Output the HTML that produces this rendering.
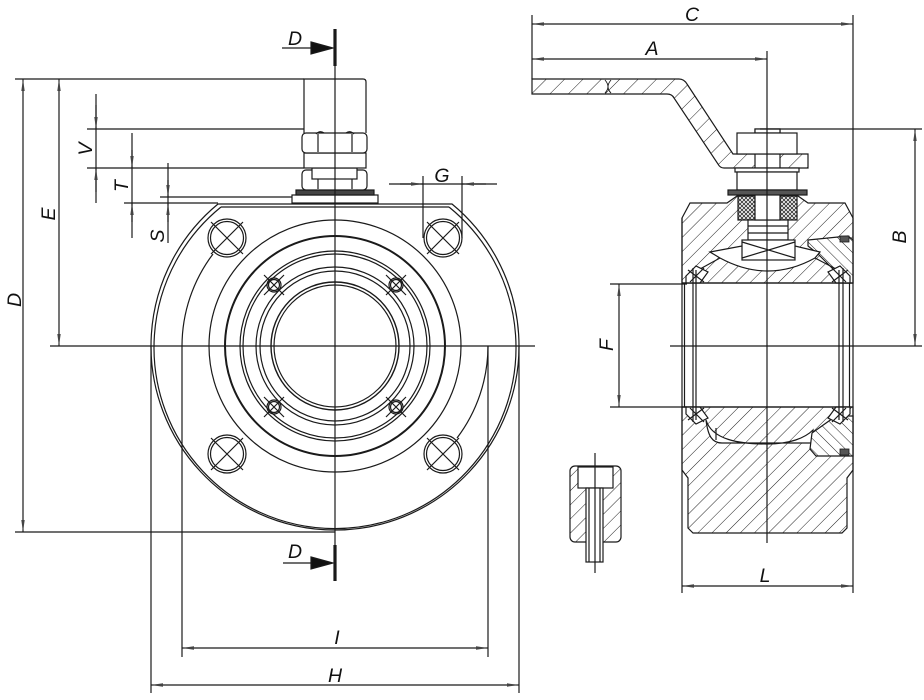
<!DOCTYPE html>
<html>
<head>
<meta charset="utf-8">
<style>
  html,body{margin:0;padding:0;background:#fff;}
  svg{display:block;}
  text{font-family:"Liberation Sans",sans-serif;font-style:italic;font-size:19.5px;fill:#111;stroke:none;}
</style>
</head>
<body>
<svg width="924" height="700" viewBox="0 0 924 700" xmlns="http://www.w3.org/2000/svg">
<defs>
  <pattern id="hb" patternUnits="userSpaceOnUse" width="10" height="10" patternTransform="rotate(45)">
    <rect width="10" height="10" fill="#fff"/>
    <line x1="0" y1="0" x2="0" y2="10" stroke="#222" stroke-width="1"/>
  </pattern>
  <pattern id="hr" patternUnits="userSpaceOnUse" width="8" height="8" patternTransform="rotate(-45)">
    <rect width="8" height="8" fill="#fff"/>
    <line x1="0" y1="0" x2="0" y2="8" stroke="#222" stroke-width="1"/>
  </pattern>
  <pattern id="hh" patternUnits="userSpaceOnUse" width="13" height="13" patternTransform="rotate(45)">
    <rect width="13" height="13" fill="#fff"/>
    <line x1="0" y1="0" x2="0" y2="13" stroke="#222" stroke-width="1"/>
  </pattern>
  <pattern id="pk" patternUnits="userSpaceOnUse" width="4" height="4">
    <rect width="4" height="4" fill="#fff"/>
    <path d="M0,4 L4,0 M0,0 L4,4" stroke="#333" stroke-width="0.9"/>
  </pattern>
  <marker id="a" viewBox="0 0 12 5" refX="12" refY="2.5" markerWidth="12" markerHeight="5" markerUnits="userSpaceOnUse" orient="auto-start-reverse">
    <path d="M0,0.8 L12,2.5 L0,4.2 Z" fill="#444"/>
  </marker>
</defs>

<g stroke="#1a1a1a" stroke-width="1.2" fill="none">

<!-- ================= LEFT VIEW ================= -->
<path d="M218,204 A184 184 0 1 0 452,204 Z" fill="#fff"/>
<path d="M221,207 A181 181 0 1 0 449,207" />
<line x1="221" y1="207" x2="449" y2="207"/>

<circle cx="335" cy="346" r="126"/>
<circle cx="335" cy="346" r="110" stroke-width="2"/>
<circle cx="335" cy="346" r="95"/>
<circle cx="335" cy="346" r="92"/>
<circle cx="335" cy="346" r="79"/>
<circle cx="335" cy="346" r="75"/>
<circle cx="335" cy="346" r="64" stroke-width="1.4"/>
<circle cx="335" cy="346" r="61"/>

<path d="M213,254 A153 153 0 0 0 182,346"/>
<path d="M488,346 A153 153 0 0 1 457,438"/>

<g>
  <circle cx="227" cy="238" r="19"/><circle cx="227" cy="238" r="16.5"/>
  <path d="M211,222 L243,254 M243,222 L211,254"/>
  <circle cx="443" cy="238" r="19"/><circle cx="443" cy="238" r="16.5"/>
  <path d="M427,222 L459,254 M459,222 L427,254"/>
  <circle cx="227" cy="454" r="19"/><circle cx="227" cy="454" r="16.5"/>
  <path d="M211,438 L243,470 M243,438 L211,470"/>
  <circle cx="443" cy="454" r="19"/><circle cx="443" cy="454" r="16.5"/>
  <path d="M427,438 L459,470 M459,438 L427,470"/>
</g>
<g>
  <circle cx="274" cy="285" r="7"/><circle cx="274" cy="285" r="5.5"/>
  <path d="M264,275 L284,295 M284,275 L264,295"/>
  <circle cx="396" cy="285" r="7"/><circle cx="396" cy="285" r="5.5"/>
  <path d="M386,275 L406,295 M406,275 L386,295"/>
  <circle cx="274" cy="407" r="7"/><circle cx="274" cy="407" r="5.5"/>
  <path d="M264,397 L284,417 M284,397 L264,417"/>
  <circle cx="396" cy="407" r="7"/><circle cx="396" cy="407" r="5.5"/>
  <path d="M386,397 L406,417 M406,397 L386,417"/>
</g>

<rect x="292" y="195" width="86" height="8" fill="#fff"/>
<rect x="296" y="190" width="78" height="5" fill="#444"/>
<rect x="302" y="170" width="65" height="20" rx="4" fill="#fff"/>
<line x1="318" y1="171" x2="318" y2="189"/><line x1="352" y1="171" x2="352" y2="189"/>
<rect x="312" y="168" width="45" height="11" fill="#fff"/>
<rect x="304" y="153" width="62" height="15" fill="#fff"/>
<rect x="302" y="133" width="65" height="20" rx="4" fill="#fff"/>
<line x1="318" y1="134" x2="318" y2="152"/><line x1="352" y1="134" x2="352" y2="152"/>
<path d="M316,134 Q320,130 324,133 M346,133 Q350,130 354,134"/>
<path d="M304,133 L304,79 L363,79 Q366,79 366,82 L366,133"/>

<line x1="15" y1="79" x2="304" y2="79"/>
<line x1="15" y1="532" x2="335" y2="532"/>
<line x1="87" y1="129" x2="304" y2="129"/>
<line x1="87" y1="168" x2="304" y2="168"/>
<line x1="160" y1="197" x2="292" y2="197"/>
<line x1="124" y1="203" x2="218" y2="203"/>
<line x1="423" y1="176" x2="423" y2="238"/>
<line x1="462" y1="176" x2="462" y2="238"/>
<line x1="151" y1="346" x2="151" y2="693"/>
<line x1="519" y1="346" x2="519" y2="693"/>
<line x1="182" y1="346" x2="182" y2="657"/>
<line x1="488" y1="346" x2="488" y2="657"/>

<line x1="335" y1="29" x2="335" y2="581"/>
<line x1="50" y1="346" x2="535" y2="346"/>

<line x1="335" y1="29" x2="335" y2="66" stroke-width="3.2"/>
<line x1="282" y1="48" x2="312" y2="48"/>
<path d="M311,42 L333,48 L311,54 Z" fill="#111"/>
<line x1="335" y1="545" x2="335" y2="581" stroke-width="3.2"/>
<line x1="283" y1="563" x2="312" y2="563"/>
<path d="M311,557 L333,563 L311,569 Z" fill="#111"/>

<line x1="23" y1="79" x2="23" y2="532" marker-start="url(#a)" marker-end="url(#a)"/>
<line x1="59" y1="79" x2="59" y2="346" marker-start="url(#a)" marker-end="url(#a)"/>
<line x1="96" y1="94" x2="96" y2="203"/>
<path d="M96,105 L96,129" marker-end="url(#a)"/>
<path d="M96,192 L96,168" marker-end="url(#a)"/>
<line x1="132" y1="133" x2="132" y2="238"/>
<path d="M132,150 L132,168" marker-end="url(#a)"/>
<path d="M132,222 L132,203" marker-end="url(#a)"/>
<line x1="168" y1="163" x2="168" y2="243"/>
<path d="M168,180 L168,197" marker-end="url(#a)"/>
<path d="M168,222 L168,203" marker-end="url(#a)"/>
<line x1="389" y1="184" x2="497" y2="184"/>
<path d="M400,184 L423,184" marker-end="url(#a)"/>
<path d="M486,184 L462,184" marker-end="url(#a)"/>
<line x1="182" y1="648" x2="488" y2="648" marker-start="url(#a)" marker-end="url(#a)"/>
<line x1="151" y1="685" x2="519" y2="685" marker-start="url(#a)" marker-end="url(#a)"/>

<!-- ================= RIGHT VIEW ================= -->
<path d="M682,283 L682,218 L690,203 L727,203 L737,196 L798,196 L808,203 L845,203 L853,218 L853,283 Z" fill="url(#hb)"/>
<path d="M808,240 L848,236 L853,240 L853,283 L845,283 L834,270 L818,254 L808,246 Z" fill="url(#hr)"/>
<rect x="840" y="236" width="9" height="6" fill="#555" stroke-width="0.8"/>
<path d="M710,252 L742,246 L795,246 L820,252 L815,258 Q768,284 720,258 Z" fill="#fff"/>
<path d="M720,258 L700,269 M815,258 L836,269"/>
<rect x="738" y="196" width="17" height="24" fill="url(#pk)"/>
<rect x="780" y="196" width="17" height="24" fill="url(#pk)"/>
<rect x="748" y="220" width="40" height="20" fill="#fff"/>
<line x1="748" y1="226" x2="788" y2="226"/>
<line x1="748" y1="233" x2="788" y2="233"/>
<rect x="742" y="240" width="53" height="20" fill="#fff"/>
<path d="M742,242 L795,258 M795,242 L742,258"/>
<rect x="755" y="129" width="25" height="91" fill="#fff"/>
<path d="M686,276 L696,266 L708,272 L700,283 L686,283 Z" fill="#fff"/>
<path d="M688,270 L704,282 M704,268 L690,282"/>
<path d="M850,276 L840,266 L828,272 L836,283 L850,283 Z" fill="#fff"/>
<path d="M848,270 L832,282 M832,268 L846,282"/>

<path d="M682,407 L853,407 L853,470 L847,478 L847,528 L842,533 L693,533 L688,528 L688,478 L682,470 Z" fill="url(#hb)"/>
<path d="M706,420 C712,440 740,444 767,444 C790,444 805,438 813,430 L812,443 L722,443 C712,443 708,436 706,420 Z" fill="#fff"/>
<line x1="716" y1="428" x2="716" y2="440"/>
<path d="M812,433 L836,416 L853,416 L853,456 L816,456 L810,449 Z" fill="url(#hr)"/>
<rect x="840" y="449" width="9" height="6" fill="#555" stroke-width="0.8"/>
<path d="M686,414 L696,424 L708,418 L700,407 L686,407 Z" fill="#fff"/>
<path d="M688,420 L704,408 M704,422 L690,408"/>
<path d="M850,414 L840,424 L828,418 L836,407 L850,407 Z" fill="#fff"/>
<path d="M848,420 L832,408 M832,422 L846,408"/>

<line x1="684.5" y1="283" x2="684.5" y2="407"/>
<line x1="693" y1="268" x2="693" y2="422"/>
<line x1="696" y1="270" x2="696" y2="420"/>
<line x1="839" y1="270" x2="839" y2="420"/>
<line x1="843" y1="268" x2="843" y2="422"/>
<line x1="849.5" y1="283" x2="849.5" y2="407"/>
<line x1="682" y1="283" x2="853" y2="283"/>
<line x1="682" y1="407" x2="853" y2="407"/>
<line x1="682" y1="218" x2="682" y2="593"/>

<path d="M532,79 L679,79 Q684,79 687,84 L733,154 L808,154 L808,168 L724,168 Q720,168 718,164 L674,98 Q672,94 667,94 L532,94 Z" fill="url(#hh)"/>
<path d="M605,80 Q611,87 605,93 M611,80 Q605,87 611,93" stroke-width="0.9"/>
<rect x="755" y="154" width="25" height="14" fill="#fff"/>
<rect x="755" y="129" width="25" height="4" fill="#fff"/>
<rect x="737" y="133" width="60" height="21" fill="#fff"/>
<rect x="735" y="168" width="64" height="4" fill="#fff"/>
<rect x="737" y="172" width="60" height="18" fill="#fff"/>
<rect x="728" y="190" width="79" height="5" fill="#555"/>

<rect x="570" y="466" width="51" height="76" rx="5" fill="url(#hb)"/>
<rect x="578" y="467" width="35" height="21" fill="#fff"/>
<rect x="586" y="488" width="17" height="74" fill="#fff"/>
<line x1="589" y1="488" x2="589" y2="562"/>
<line x1="600" y1="488" x2="600" y2="562"/>
<line x1="595" y1="453" x2="595" y2="573"/>

<line x1="767" y1="51" x2="767" y2="543"/>
<line x1="670" y1="346" x2="922" y2="346"/>

<line x1="532" y1="15" x2="532" y2="79"/>
<line x1="853" y1="15" x2="853" y2="593"/>
<line x1="760" y1="129" x2="922" y2="129"/>
<line x1="610" y1="284" x2="687" y2="284"/>
<line x1="610" y1="407" x2="687" y2="407"/>

<line x1="532" y1="24" x2="853" y2="24" marker-start="url(#a)" marker-end="url(#a)"/>
<line x1="532" y1="59" x2="767" y2="59" marker-start="url(#a)" marker-end="url(#a)"/>
<line x1="915" y1="129" x2="915" y2="346" marker-start="url(#a)" marker-end="url(#a)"/>
<line x1="619" y1="284" x2="619" y2="407" marker-start="url(#a)" marker-end="url(#a)"/>
<line x1="682" y1="586" x2="853" y2="586" marker-start="url(#a)" marker-end="url(#a)"/>
</g>

<text x="295" y="45" text-anchor="middle">D</text>
<text x="295" y="558" text-anchor="middle">D</text>
<text x="442" y="182" text-anchor="middle">G</text>
<text x="337" y="644" text-anchor="middle">I</text>
<text x="335" y="682" text-anchor="middle">H</text>
<text x="692" y="21" text-anchor="middle">C</text>
<text x="652" y="55" text-anchor="middle">A</text>
<text x="765" y="582" text-anchor="middle">L</text>
<text transform="translate(21,300) rotate(-90)" text-anchor="middle">D</text>
<text transform="translate(55,214) rotate(-90)" text-anchor="middle">E</text>
<text transform="translate(92,149) rotate(-90)" text-anchor="middle">V</text>
<text transform="translate(128,186) rotate(-90)" text-anchor="middle">T</text>
<text transform="translate(164,236) rotate(-90)" text-anchor="middle">S</text>
<text transform="translate(613,345) rotate(-90)" text-anchor="middle">F</text>
<text transform="translate(906,237) rotate(-90)" text-anchor="middle">B</text>
</svg>
</body>
</html>
